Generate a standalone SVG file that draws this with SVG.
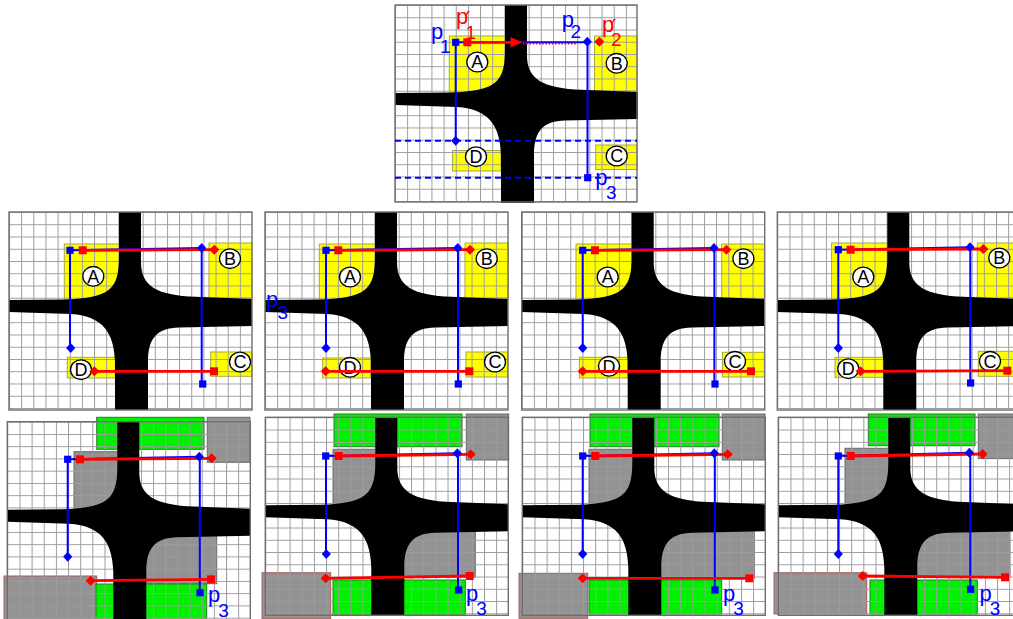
<svg xmlns="http://www.w3.org/2000/svg" xmlns:xlink="http://www.w3.org/1999/xlink" width="1013" height="619" viewBox="0 0 1013 619">
<style>
.bg{fill:#fff}
.gridr{fill:url(#grid)}
.frame{fill:none;stroke:#6e6e6e;stroke-width:1.4}
.yel{fill:#ffff00;stroke:#a8a840;stroke-width:1}
.grn{fill:#00f000;stroke:#2c7a2c;stroke-width:1}
.gry{fill:#939393;stroke:#6a6a6a;stroke-width:1}
.gryr{fill:#939393;stroke:#a85c5c;stroke-width:1}
.bl{stroke:#0000ff;stroke-width:2;fill:none}
.bld{stroke:#0000ff;stroke-width:2;fill:none;stroke-dasharray:6 4}
.rl{stroke:#ff0000;stroke-width:2.8;fill:none}
.rdot{stroke:#ff0000;stroke-width:1.6;fill:none;stroke-dasharray:1.6 1.6}
.lbl ellipse{fill:#fff;stroke:#000;stroke-width:1.3}
.lbl text{font-family:"Liberation Sans",Arial,sans-serif;font-size:18px;text-anchor:middle;fill:#000}
.pb{fill:#0000ff;font-family:"Liberation Sans",Arial,sans-serif;font-size:22px}
.pr{fill:#ff0000;font-family:"Liberation Sans",Arial,sans-serif;font-size:22px}
.sub{font-size:19px}
.prime{fill:#ff0000;font-family:"DejaVu Sans",sans-serif;font-size:22px}
</style>
<defs>
<pattern id="grid" width="12.15" height="12.25" patternUnits="userSpaceOnUse">
<path d="M0,0H12.15M0,0V12.25" stroke="#9c9c9c" stroke-width="2" fill="none"/>
</pattern>
<path id="cross" fill="#000" d="M110,0 H132 V50 C132,70 142,82 180,84.5 L243,87 V114 L170,115.5 C148,116 139,126 139,150 V198 H106 V150 C105,122 95,104 62,102 L0,100 V88 L56,87.5 C100,86 110,78 110,45 Z"/>
<rect id="bsq" x="-3.6" y="-3.6" width="7.2" height="7.2" fill="#0000ff"/>
<rect id="rsq" x="-4" y="-4" width="8" height="8" fill="#ff0000"/>
<path id="bdi" d="M0,-5 L4.6,0 L0,5 L-4.6,0Z" fill="#0000ff"/>
<path id="rdi" d="M0,-5 L5,0 L0,5 L-5,0Z" fill="#ff0000"/>
</defs>

<!-- TOP PANEL -->
<g id="panel-top" transform="translate(395,5)">
<rect class="bg" width="242" height="197"/>
<rect class="yel" x="54.3" y="31" width="58" height="57"/>
<rect class="yel" x="199.5" y="31" width="42.5" height="55"/>
<rect class="yel" x="57.5" y="145.5" width="48.5" height="20.5"/>
<rect class="yel" x="200.7" y="140" width="41.3" height="24.5"/>
<rect class="gridr" width="242" height="197"/>
<use href="#cross"/>
<rect class="frame" width="242" height="197"/>
<g class="lbl">
<ellipse cx="82.3" cy="57" rx="10.5" ry="9.8"/><text x="82.3" y="63.4">A</text>
<ellipse cx="221.7" cy="58.3" rx="10.5" ry="9.8"/><text x="221.7" y="64.7">B</text>
<ellipse cx="81" cy="151.7" rx="10.5" ry="9.8"/><text x="81" y="158.1">D</text>
<ellipse cx="221.7" cy="151" rx="10.5" ry="9.8"/><text x="221.7" y="157.4">C</text>
</g>
<g id="connectors-top">
<path class="bld" d="M0,135.7H242M0,172.7H242"/>
<path class="bl" d="M60.7,37.3H192.3M60.7,37.3V135.7M192.5,36.7V172.7"/>
<path class="rdot" d="M128,38.6H181"/>
<path class="rl" d="M72.3,37.3H117"/>
<path d="M115.5,32 L127.5,37.3 L115.5,42.6Z" fill="#ff0000"/>
<use href="#bsq" x="60.7" y="37.3"/>
<use href="#rsq" x="72.3" y="37.3"/>
<use href="#bdi" x="192.3" y="36.7"/>
<use href="#rdi" x="204.3" y="36.7"/>
<use href="#bdi" x="60.7" y="135.7"/>
<use href="#bsq" x="192.7" y="172.7"/>
</g>
<text class="pb" x="36" y="34">p</text><text class="pb sub" x="45" y="47.5">1</text>
<text class="pr" x="61" y="19">p</text><text class="prime" x="70.5" y="22">′</text><text class="pr sub" x="70.5" y="34">1</text>
<text class="pb" x="166.8" y="22">p</text><text class="pb sub" x="175.5" y="32.5">2</text>
<text class="pr" x="207" y="27">p</text><text class="prime" x="216.5" y="29.5">′</text><text class="pr sub" x="216" y="40.5">2</text>
<text class="pb" x="200.2" y="180.4">p</text><text class="pb sub" x="211" y="194">3</text>
</g>

<!-- MIDDLE PANEL 1 -->
<g id="panel-m1" transform="translate(9,212)">
<rect class="bg" width="243" height="198"/>
<rect class="yel" x="55.3" y="32" width="57" height="56"/>
<rect class="yel" x="200" y="31" width="43" height="55"/>
<rect class="yel" x="58.3" y="145.3" width="48" height="20.7"/>
<rect class="yel" x="201.7" y="140" width="41.3" height="24.3"/>
<rect class="gridr" width="243" height="198"/>
<use href="#cross"/>
<rect class="frame" width="243" height="198"/>
<g class="lbl">
<ellipse cx="84.3" cy="64.3" rx="10.5" ry="9.8"/><text x="84.3" y="70.7">A</text>
<ellipse cx="221" cy="46.7" rx="10.5" ry="9.8"/><text x="221" y="53.1">B</text>
<ellipse cx="72" cy="157.7" rx="10.5" ry="9.8"/><text x="72" y="164.1">D</text>
<ellipse cx="231" cy="150" rx="10.5" ry="9.8"/><text x="231" y="156.4">C</text>
</g>
<g id="connectors-m1">
<path class="bl" d="M61,38.3L192.7,36M61,38.3V136M192.7,36V172"/>
<path class="rl" d="M73.7,38.3L205.3,37.7M85.3,159.3H205"/>
<use href="#bsq" x="61" y="38.3"/>
<use href="#rsq" x="73.7" y="38.3"/>
<use href="#bdi" x="192.7" y="36"/>
<use href="#rdi" x="205.3" y="37.7"/>
<use href="#bdi" x="61.7" y="136"/>
<use href="#bsq" x="193.7" y="172"/>
<use href="#rdi" x="85.3" y="159.3"/>
<use href="#rsq" x="205" y="159.3"/>
</g>
</g>

<!-- MIDDLE PANEL 2 -->
<g id="panel-m2" transform="translate(265,212)">
<rect class="bg" width="243" height="198"/>
<rect class="yel" x="54.3" y="32" width="58" height="56"/>
<rect class="yel" x="200" y="31" width="43.3" height="55"/>
<rect class="yel" x="57.7" y="146" width="48" height="20"/>
<rect class="yel" x="201" y="140" width="41.5" height="25"/>
<rect class="gridr" width="243" height="198"/>
<use href="#cross"/>
<rect class="frame" width="243" height="198"/>
<g class="lbl">
<ellipse cx="85" cy="65" rx="10.5" ry="9.8"/><text x="85" y="71.4">A</text>
<ellipse cx="221.7" cy="46.7" rx="10.5" ry="9.8"/><text x="221.7" y="53.1">B</text>
<ellipse cx="85" cy="155.3" rx="10.5" ry="9.8"/><text x="85" y="161.7">D</text>
<ellipse cx="230" cy="150" rx="10.5" ry="9.8"/><text x="230" y="156.4">C</text>
</g>
<g id="connectors-m2">
<path class="bl" d="M61,38.3L192.7,36M61,38.3V136M193,36V172"/>
<path class="rl" d="M73.3,38.3L205,37.7M60.7,159.3H204.3"/>
<use href="#bsq" x="61" y="38.3"/>
<use href="#rsq" x="73.3" y="38.3"/>
<use href="#bdi" x="192.7" y="36"/>
<use href="#rdi" x="205" y="37.7"/>
<use href="#bdi" x="61" y="136"/>
<use href="#bsq" x="193.3" y="172"/>
<use href="#rdi" x="60.7" y="159.3"/>
<use href="#rsq" x="204.3" y="159.3"/>
</g>
<text class="pb" x="1" y="94.7">p</text><text class="pb sub" x="12.5" y="106.5">3</text>
</g>

<!-- MIDDLE PANEL 3 -->
<g id="panel-m3" transform="translate(521.7,212)">
<rect class="bg" width="243" height="198"/>
<rect class="yel" x="54.3" y="32" width="58" height="56"/>
<rect class="yel" x="200" y="32" width="42.7" height="54.7"/>
<rect class="yel" x="57.7" y="145.3" width="48.3" height="20.7"/>
<rect class="yel" x="200.7" y="140.3" width="42" height="24.7"/>
<rect class="gridr" width="243" height="198"/>
<use href="#cross"/>
<rect class="frame" width="243" height="198"/>
<g class="lbl">
<ellipse cx="86" cy="65" rx="10.5" ry="9.8"/><text x="86" y="71.4">A</text>
<ellipse cx="221.7" cy="46.7" rx="10.5" ry="9.8"/><text x="221.7" y="53.1">B</text>
<ellipse cx="87.3" cy="154.3" rx="10.5" ry="9.8"/><text x="87.3" y="160.7">D</text>
<ellipse cx="213.3" cy="149.3" rx="10.5" ry="9.8"/><text x="213.3" y="155.7">C</text>
</g>
<g id="connectors-m3">
<path class="bl" d="M61,38.3L192.3,36M61,38.3V136M192.7,36V172"/>
<path class="rl" d="M73.3,38.3L204.7,37.7M61,159.3H229.3"/>
<use href="#bsq" x="61" y="38.3"/>
<use href="#rsq" x="73.3" y="38.3"/>
<use href="#bdi" x="192.3" y="36"/>
<use href="#rdi" x="204.7" y="37.7"/>
<use href="#bdi" x="61" y="136"/>
<use href="#bsq" x="193.3" y="172"/>
<use href="#rdi" x="61" y="159.3"/>
<use href="#rsq" x="229.3" y="159.3"/>
</g>
</g>

<!-- MIDDLE PANEL 4 -->
<g id="panel-m4" transform="translate(777.3,212)">
<rect class="bg" width="243" height="198"/>
<rect class="yel" x="54.3" y="31" width="58" height="57"/>
<rect class="yel" x="200" y="31" width="43" height="55"/>
<rect class="yel" x="57.7" y="145.3" width="48.3" height="20"/>
<rect class="yel" x="201" y="139.3" width="42" height="25"/>
<rect class="gridr" width="243" height="198"/>
<use href="#cross"/>
<rect class="frame" width="243" height="198"/>
<g class="lbl">
<ellipse cx="86" cy="65" rx="10.5" ry="9.8"/><text x="86" y="71.4">A</text>
<ellipse cx="222" cy="46" rx="10.5" ry="9.8"/><text x="222" y="52.4">B</text>
<ellipse cx="71" cy="156.7" rx="10.5" ry="9.8"/><text x="71" y="163.1">D</text>
<ellipse cx="212.7" cy="149.3" rx="10.5" ry="9.8"/><text x="212.7" y="155.7">C</text>
</g>
<g id="connectors-m4">
<path class="bl" d="M61,37.7L192.7,35.3M61,37.7V136M193,35.3V171"/>
<path class="rl" d="M73.3,37.7L206,37M83.3,159.3L230,158.7"/>
<use href="#bsq" x="61" y="37.7"/>
<use href="#rsq" x="73.3" y="37.7"/>
<use href="#bdi" x="192.7" y="35.3"/>
<use href="#rdi" x="206" y="37"/>
<use href="#bdi" x="61" y="136"/>
<use href="#bsq" x="193.3" y="171"/>
<use href="#rdi" x="83.3" y="159.3"/>
<use href="#rsq" x="230" y="158.7"/>
</g>
</g>

<!-- BOTTOM PANEL 1 -->
<g id="panel-b1" transform="translate(7.3,421.7)">
<rect class="bg" width="243" height="198"/>
<rect class="grn" x="89.4" y="-4.4" width="107.3" height="32"/>
<rect class="gry" x="200" y="-4.4" width="42.7" height="45"/>
<rect class="gry" x="66.7" y="30" width="45" height="57"/>
<rect class="gry" x="130" y="112" width="79.4" height="50"/>
<rect class="gryr" x="-3.3" y="154.3" width="92.7" height="45"/>
<rect class="grn" x="88.7" y="162.3" width="110.7" height="36"/>
<rect class="gridr" width="243" height="198"/>
<use href="#cross"/>
<rect class="frame" width="243" height="198"/>
<g id="connectors-b1">
<path class="bl" d="M60.4,37.6L192,35M60.4,37.6V135M192.5,35V171"/>
<path class="rl" d="M72.7,37.6L204.4,36.6M83.4,159L203.7,157.6"/>
<use href="#bsq" x="60.4" y="37.6"/>
<use href="#rsq" x="72.7" y="37.6"/>
<use href="#bdi" x="192" y="35"/>
<use href="#rdi" x="204.4" y="36.6"/>
<use href="#bdi" x="60.4" y="135"/>
<use href="#bsq" x="192.7" y="171"/>
<use href="#rdi" x="83.4" y="159"/>
<use href="#rsq" x="203.7" y="157.6"/>
</g>
<text class="pb" x="200.7" y="180.8">p</text><text class="pb sub" x="211" y="195">3</text>
</g>

<!-- BOTTOM PANEL 2 -->
<g id="panel-b2" transform="translate(265.3,417.3)">
<rect class="bg" width="243" height="198"/>
<rect class="grn" x="68.7" y="-3.3" width="128" height="32.7"/>
<rect class="gry" x="201" y="-3.3" width="42.4" height="46"/>
<rect class="gry" x="67.7" y="32" width="44" height="56"/>
<rect class="gry" x="130" y="112.7" width="80" height="47"/>
<rect class="gryr" x="-3.3" y="155.4" width="68.7" height="46"/>
<rect class="grn" x="67.7" y="162.7" width="132.3" height="35"/>
<rect class="gridr" width="243" height="198"/>
<use href="#cross"/>
<rect class="frame" width="243" height="198"/>
<g id="connectors-b2">
<path class="bl" d="M60.4,38.7L192,36M60.7,38.7V136.7M192.7,36V172.7"/>
<path class="rl" d="M73.4,38.7L205.4,37M60.4,161L204.4,158.7"/>
<use href="#bsq" x="60.4" y="38.7"/>
<use href="#rsq" x="73.4" y="38.7"/>
<use href="#bdi" x="192" y="36"/>
<use href="#rdi" x="205.4" y="37"/>
<use href="#bdi" x="61" y="136.7"/>
<use href="#bsq" x="193.4" y="172.7"/>
<use href="#rdi" x="60.4" y="161"/>
<use href="#rsq" x="204.4" y="158.7"/>
</g>
<text class="pb" x="200.7" y="184.2">p</text><text class="pb sub" x="211" y="197.7">3</text>
</g>

<!-- BOTTOM PANEL 3 -->
<g id="panel-b3" transform="translate(522.3,417.3)">
<rect class="bg" width="243" height="198"/>
<rect class="grn" x="67.7" y="-3.3" width="129" height="32.7"/>
<rect class="gry" x="200" y="-3.3" width="42.7" height="46"/>
<rect class="gry" x="66.7" y="32" width="45" height="56"/>
<rect class="gry" x="130" y="113.4" width="102" height="47.6"/>
<rect class="gryr" x="-3.3" y="156" width="68.7" height="45"/>
<rect class="grn" x="66.7" y="162.7" width="132.7" height="34"/>
<rect class="gridr" width="243" height="198"/>
<use href="#cross"/>
<rect class="frame" width="243" height="198"/>
<g id="connectors-b3">
<path class="bl" d="M60.4,38.7L192,36M60.4,38.7V136.7M192.5,36V172.7"/>
<path class="rl" d="M73,38.7L205.4,37M60.4,161H227"/>
<use href="#bsq" x="60.4" y="38.7"/>
<use href="#rsq" x="73" y="38.7"/>
<use href="#bdi" x="192" y="36"/>
<use href="#rdi" x="205.4" y="37"/>
<use href="#bdi" x="60.4" y="136.7"/>
<use href="#bsq" x="192.7" y="172.7"/>
<use href="#rdi" x="60.4" y="161"/>
<use href="#rsq" x="227" y="161"/>
</g>
<text class="pb" x="200.7" y="184.2">p</text><text class="pb sub" x="211" y="197.7">3</text>
</g>

<!-- BOTTOM PANEL 4 -->
<g id="panel-b4" transform="translate(778.3,417.3)">
<rect class="bg" width="243" height="198"/>
<rect class="grn" x="90" y="-3.3" width="106.7" height="31.7"/>
<rect class="gry" x="200" y="-3.3" width="45" height="44.6"/>
<rect class="gry" x="66.7" y="31" width="45" height="57"/>
<rect class="gry" x="130" y="113.4" width="101.7" height="46"/>
<rect class="gryr" x="-4.3" y="155.4" width="92.7" height="41.3"/>
<rect class="grn" x="91.7" y="162.7" width="107.3" height="34"/>
<rect class="gridr" width="243" height="198"/>
<use href="#cross"/>
<rect class="frame" width="243" height="198"/>
<g id="connectors-b4">
<path class="bl" d="M60,38.7L191,35.4M60,38.7V136.7M192,35.4V172"/>
<path class="rl" d="M72.4,38.7L204.4,36.7M84.4,158.7L226.7,160"/>
<use href="#bsq" x="60" y="38.7"/>
<use href="#rsq" x="72.4" y="38.7"/>
<use href="#bdi" x="191" y="35.4"/>
<use href="#rdi" x="204.4" y="36.7"/>
<use href="#bdi" x="60" y="136.7"/>
<use href="#bsq" x="192.4" y="172"/>
<use href="#rdi" x="84.4" y="158.7"/>
<use href="#rsq" x="226.7" y="160"/>
</g>
<text class="pb" x="201.2" y="184.2">p</text><text class="pb sub" x="211.5" y="197.7">3</text>
</g>
</svg>
